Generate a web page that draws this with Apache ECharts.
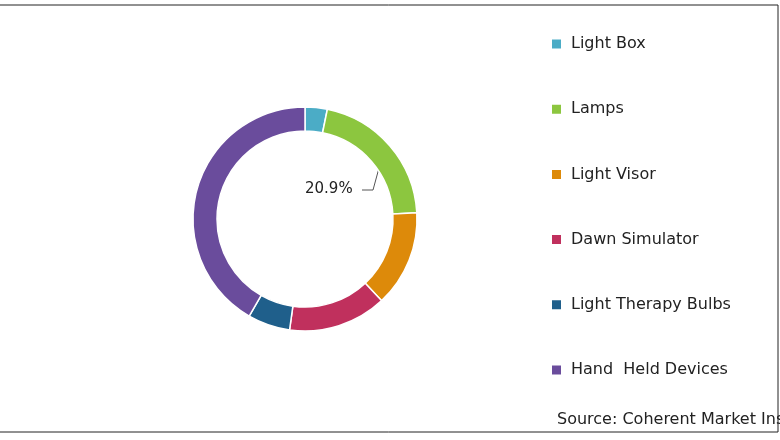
<!DOCTYPE html>
<html><head><meta charset="utf-8">
<script src="https://cdn.jsdelivr.net/npm/echarts@6/dist/echarts.min.js"></script>
<style>html,body{margin:0;padding:0;background:#fff}#c{width:780px;height:440px}</style>
</head><body><div id="c"></div>
<script>
const categories = ['Light Box','Lamps','Light Visor','Dawn Simulator','Light Therapy Bulbs','Hand  Held Devices'];
const values = [3.2, 20.9, 13.9, 14.2, 6.1, 41.7];
const colors = ['#4bacc6','#8cc63f','#dd8a0a','#c0305d','#1f5f8b','#6a4c9c'];
const chart = echarts.init(document.getElementById('c'));
chart.setOption({
  animation:false,
  color: colors,
  legend:{
    orient:'vertical', left:545, top:31, itemGap:49.2, itemWidth:11, itemHeight:11, icon:'rect',
    textStyle:{fontSize:16, color:'#222', fontFamily:'DejaVu Sans', padding:[0,0,0,4]},
    data: categories
  },
  graphic:[
    {type:'rect', shape:{x:-1,y:5,width:779,height:427}, style:{fill:'none',stroke:'#222',lineWidth:1}},
    {type:'text', left:557, top:412, style:{text:'Source: Coherent Market Insights', fontSize:16, fill:'#222', fontFamily:'DejaVu Sans'}},
    {type:'text', left:305, top:182, style:{text:values[1].toFixed(1)+'%', fontSize:15, fill:'#222', fontFamily:'DejaVu Sans'}},
    {type:'polyline', shape:{points:[[362,190],[373,190],[379,168]]}, style:{stroke:'#555',lineWidth:1,fill:'none'}}
  ],
  series:[{
    type:'pie', center:[305,219], radius:[88,112], startAngle:90, clockwise:true,
    label:{show:false}, labelLine:{show:false},
    itemStyle:{borderColor:'#fff', borderWidth:1.5},
    data: categories.map((c,i)=>({name:c, value:values[i]}))
  }]
});
</script></body></html>
